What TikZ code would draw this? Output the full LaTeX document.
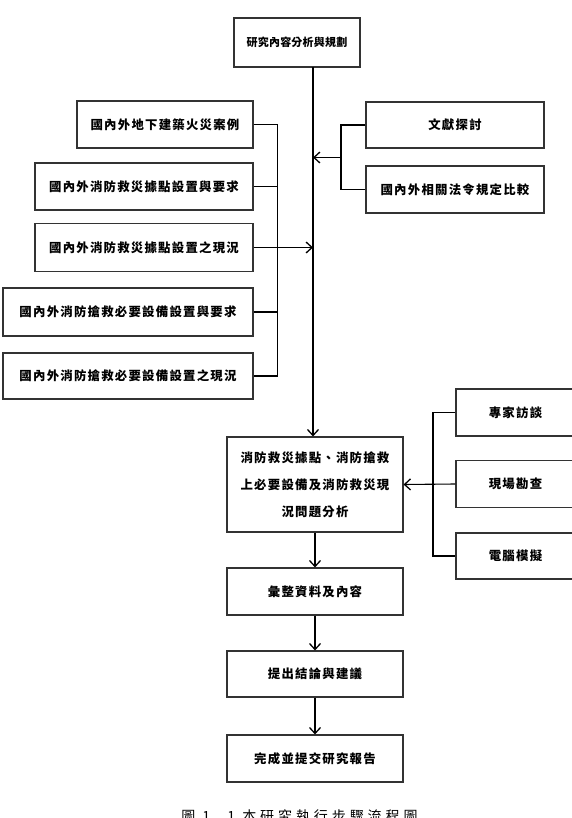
\documentclass[tikz,border=0pt]{standalone}
\usepackage{fontspec}
\newfontfamily\cjk[LetterSpace=10]{Noto Sans CJK TC}
\newfontfamily\cjkt[LetterSpace=2]{Noto Sans CJK TC}
\newfontfamily\cjkcap[LetterSpace=28]{Noto Sans CJK TC}
\usetikzlibrary{arrows.meta}
\begin{document}
\begin{tikzpicture}[x=1pt,y=-1pt,
  box/.style={draw=black!80, line width=1.1pt, inner sep=0pt, align=center,
    font=\cjk\bfseries\fontsize{12.4}{14}\selectfont},
  conn/.style={line width=1.1pt, black},
  arr/.style={conn, -{Straight Barb[length=6pt,width=11pt,line width=1.3pt]}}]
\useasboundingbox (0,0) rectangle (572,818);
\clip (0,0) rectangle (572,818);
\fill[white] (0,0) rectangle (572,818);

% nodes
\node[box, minimum width=126pt, minimum height=49pt, font=\cjkt\bfseries\fontsize{11}{13}\selectfont] (top) at (297,42.5) {研究內容分析與規劃};
\node[box, minimum width=176pt, minimum height=47pt] (L1) at (165,124.5) {國內外地下建築火災案例};
\node[box, minimum width=218pt, minimum height=47pt] (L2) at (144,186.5) {國內外消防救災據點設置與要求};
\node[box, minimum width=218pt, minimum height=48pt] (L3) at (144,247.5) {國內外消防救災據點設置之現況};
\node[box, minimum width=250pt, minimum height=48pt] (L4) at (128,312) {國內外消防搶救必要設備設置與要求};
\node[box, minimum width=250pt, minimum height=46pt] (L5) at (128,376) {國內外消防搶救必要設備設置之現況};
\node[box, minimum width=178pt, minimum height=46pt] (R1) at (455,125) {文獻探討};
\node[box, minimum width=178pt, minimum height=47pt] (R2) at (455,189.5) {國內外相關法令規定比較};
\node[box, minimum width=176pt, minimum height=95pt, font=\cjk\bfseries\fontsize{12.4}{27}\selectfont] (mid) at (315,484.5)
  {消防救災據點、消防搶救\\上必要設備及消防救災現\\況問題分析};
\node[box, minimum width=119pt, minimum height=47pt] (S1) at (515.5,412.5) {專家訪談};
\node[box, minimum width=119pt, minimum height=47pt] (S2) at (515.5,484) {現場勘查};
\node[box, minimum width=119pt, minimum height=46pt] (S3) at (515.5,556) {電腦模擬};
\node[box, minimum width=176pt, minimum height=47pt] (B1) at (315,591.5) {彙整資料及內容};
\node[box, minimum width=176pt, minimum height=46pt] (B2) at (315,674) {提出結論與建議};
\node[box, minimum width=176pt, minimum height=47pt] (B3) at (315,758.5) {完成並提交研究報告};
\node[font=\cjkcap\fontsize{14}{16}\selectfont, inner sep=0pt, anchor=north] (cap) at (299.5,810) {圖 1. 1 本研究執行步驟流程圖};

% helper coordinates
\coordinate (mx) at (313,0);
\coordinate (lbx) at (277.5,0);
\coordinate (rbx) at (341,0);
\coordinate (sbx) at (433,0);
\coordinate (mtop) at (313,67);
\coordinate (rj) at (341,157.5);

% main line
\draw[arr] (mtop) -- (mtop |- mid.north);

% left bracket
\draw[conn] (L1.east) -- (L1.east -| lbx) -- (L5.east -| lbx) -- (L5.east);
\draw[conn] (L2.east) -- (L2.east -| lbx);
\draw[conn] (L4.east) -- (L4.east -| lbx);
\draw[arr] (L3.east) -- (L3.east -| mx);

% right bracket
\draw[conn] (R1.west) -- (R1.west -| rbx) -- (R2.west -| rbx) -- (R2.west);
\draw[arr] (rj) -- (rj -| mx);

% side bracket
\draw[conn] (S1.west) -- (S1.west -| sbx) -- (S3.west -| sbx) -- (S3.west);
\draw[arr] (S2.west) -- (mid.east);

% lower chain
\draw[arr] (mid.south) -- (B1.north);
\draw[arr] (B1.south) -- (B2.north);
\draw[arr] (B2.south) -- (B3.north);
\end{tikzpicture}
\end{document}
